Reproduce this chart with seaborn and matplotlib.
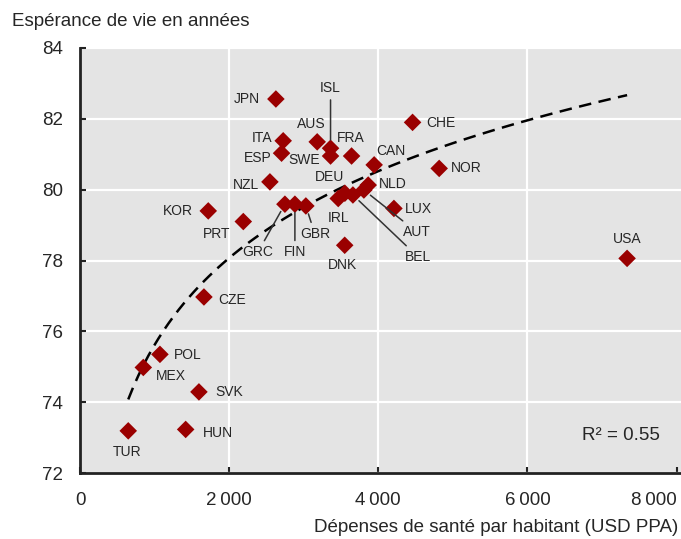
import numpy as np
import pandas as pd
import matplotlib
matplotlib.use("Agg")
import matplotlib.pyplot as plt
import seaborn as sns

countries = ["JPN", "ITA", "ESP", "AUS", "ISL", "SWE", "FRA", "CAN", "CHE", "NOR",
             "NLD", "AUT", "BEL", "DEU", "IRL", "LUX", "DNK", "GRC", "FIN", "GBR",
             "KOR", "PRT", "NZL", "USA", "CZE", "POL", "MEX", "SVK", "HUN", "TUR"]
spending = [2627, 2725, 2703, 3181, 3360, 3360, 3642, 3945, 4460, 4817,
            3865, 3807, 3660, 3552, 3463, 4210, 3550, 2748, 2882, 3029,
            1720, 2190, 2547, 7337, 1662, 1072, 849, 1595, 1417, 647]
life_exp = [82.56, 81.38, 81.03, 81.35, 81.17, 80.95, 80.95, 80.70, 81.90, 80.60,
            80.13, 79.99, 79.85, 79.90, 79.75, 79.47, 78.43, 79.59, 79.59, 79.54,
            79.40, 79.10, 80.22, 78.06, 76.97, 75.35, 74.98, 74.29, 73.23, 73.19]
x_ticks = [0, 2000, 4000, 6000, 8000]
x_tick_labels = ["0", "2\u2009000", "4\u2009000", "6\u2009000", "8\u2009000"]
y_ticks = [72, 74, 76, 78, 80, 82, 84]
r2_text = "R² = 0.55"
y_title = "Espérance de vie en années"
x_title = "Dépenses de santé par habitant (USD PPA)"

df = pd.DataFrame({"country": countries, "spending": spending, "life": life_exp})

# label placement: (dx px, dy px, ha, leader line)
label_pos = {
    "JPN": (-16, 0, "right", False), "ITA": (-11, 3, "right", False),
    "ESP": (-10, -5, "right", False), "AUS": (-6, 18, "center", False),
    "ISL": (0, 60, "center", True), "SWE": (-11, -4, "right", False),
    "FRA": (-1, 18, "center", False), "CAN": (17, 14, "center", False),
    "CHE": (14, -1, "left", False), "NOR": (12, 0, "left", False),
    "NLD": (11, 1, "left", False), "AUT": (39, -42, "left", True),
    "BEL": (52, -62, "left", True), "DEU": (-15, 16, "center", False),
    "IRL": (0, -19, "center", False), "LUX": (11, -1, "left", False),
    "DNK": (-2, -20, "center", False), "GRC": (-27, -48, "center", True),
    "FIN": (0, -48, "center", True), "GBR": (9, -28, "center", True),
    "KOR": (-15, 0, "right", False), "PRT": (-27, -12, "center", False),
    "NZL": (-11, -3, "right", False), "USA": (0, 19, "center", False),
    "CZE": (14, -3, "left", False), "POL": (14, -1, "left", False),
    "MEX": (13, -9, "left", False), "SVK": (16, 0, "left", False),
    "HUN": (17, -4, "left", False), "TUR": (-1, -21, "center", False),
}

sns.set_theme(style="darkgrid", rc={
    "axes.facecolor": "#e4e4e4",
    "grid.color": "white",
    "grid.linewidth": 1.6,
})
plt.rcParams["font.family"] = ["Liberation Sans", "DejaVu Sans"]
txt_color = "#262626"

fig = plt.figure(figsize=(6.81, 5.39), dpi=100)
ax = fig.add_axes([80 / 681, 66 / 539, 601 / 681, 425 / 539])

sns.regplot(data=df, x="spending", y="life", logx=True, ci=None, scatter=False,
            truncate=True, ax=ax,
            line_kws=dict(color="black", lw=1.8, linestyle=(0, (5, 3))))
sns.scatterplot(data=df, x="spending", y="life", marker="D", s=80,
                color="#9a0000", edgecolor="none", ax=ax, zorder=3)

for c, xv, yv in zip(countries, spending, life_exp):
    dx, dy, ha, leader = label_pos[c]
    kw = {}
    if leader:
        kw["arrowprops"] = dict(arrowstyle="-", lw=1.1, color="#333333",
                                shrinkA=1, shrinkB=6)
    ax.annotate(c, xy=(xv, yv), xytext=(dx, dy), textcoords="offset pixels",
                ha=ha, va="center", fontsize=10, color=txt_color, zorder=4, **kw)

ax.text(7775, 73.07, r2_text, ha="right", va="center", fontsize=13.5, color=txt_color)

ax.set_xlim(0, 8060)
ax.set_ylim(72, 84)
ax.set_xticks(x_ticks)
ax.set_xticklabels(x_tick_labels)
ax.set_yticks(y_ticks)
ax.set_xlabel("")
ax.set_ylabel("")
ax.tick_params(axis="both", direction="in", length=4, width=1.5, color="#222222",
               labelsize=13.5, labelcolor=txt_color)
ax.tick_params(axis="y", pad=12, left=True)
ax.tick_params(axis="x", pad=14, bottom=True)
ax.get_xticklabels()[-1].set_ha("right")
ax.xaxis.grid(True)
ax.xaxis.get_gridlines()[-1].set_visible(False)

for s in ["top", "right"]:
    ax.spines[s].set_visible(False)
for s in ["left", "bottom"]:
    ax.spines[s].set_visible(True)
    ax.spines[s].set_color("#222222")
    ax.spines[s].set_linewidth(2)

fig.text(12 / 681, 1 - 22 / 539, y_title, ha="left", va="center", fontsize=13.5,
         color=txt_color)
fig.text(678 / 681, 1 - 527 / 539, x_title, ha="right", va="center", fontsize=13.5,
         color=txt_color)

fig.savefig("out.png", dpi=100)
